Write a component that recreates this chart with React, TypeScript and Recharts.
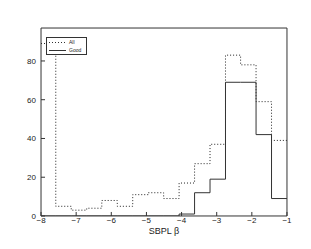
import { LineChart, Line, XAxis, YAxis, Legend } from "recharts";

// bin edges (SBPL beta) and counts per bin
const binEdges = [-8, -7.58, -7.14, -6.7, -6.27, -5.83, -5.39, -4.95, -4.51, -4.07, -3.63, -3.19, -2.75, -2.32, -1.88, -1.44, -1];
const allCounts = [89, 5, 3, 4, 8, 5, 11, 12, 9, 17, 27, 37, 83, 78, 59, 39];
const goodCounts = [0, 0, 0, 0, 0, 0, 0, 0, 0, 1, 12, 19, 69, 69, 42, 9];

const xMajor = [-8, -7, -6, -5, -4, -3, -2, -1];
const xMinor = Array.from({ length: 71 }, (_, i) => Math.round((-8 + i * 0.1) * 10) / 10);
const yMajor = [0, 20, 40, 60, 80];
const yMinor = [0, 5, 10, 15, 20, 25, 30, 35, 40, 45, 50, 55, 60, 65, 70, 75, 80, 85, 90, 95];

// stepAfter: each edge carries the count of the bin that starts there, last edge repeats
const data = binEdges.map((x, i) => ({
  x,
  all: allCounts[Math.min(i, allCounts.length - 1)],
  good: goodCounts[Math.min(i, goodCounts.length - 1)],
}));

const frame = "#333";
const font = "Helvetica, Arial, 'Liberation Sans', sans-serif";
const minus = (v: number) => String(v).replace("-", "\u2212");
const thin = 0.01; // axes need a non-zero size to draw, but should not push each other

const LegendBox = (props: any) => {
  const items = props.payload || [];
  return (
    <div style={{ border: "1px solid #333", background: "#fff", width: 39, height: 16, boxSizing: "content-box", padding: 0 }}>
      {items.map((it: any, i: number) => (
        <div key={i} style={{ display: "flex", alignItems: "center", height: 8, fontFamily: font, fontSize: 5, color: "#222" }}>
          <svg width={22} height={8} style={{ display: "block" }}>
            <line x1={2} x2={19} y1={4.5} y2={4.5} stroke="#333" strokeWidth={1}
              strokeDasharray={it.payload?.strokeDasharray} />
          </svg>
          <span>{it.value}</span>
        </div>
      ))}
    </div>
  );
};

export default function App() {
  return (
    <LineChart width={303} height={241} data={data} margin={{ top: 20, right: 24, bottom: 33, left: 33 }}>
      <XAxis xAxisId="x" dataKey="x" type="number" domain={[-8, -1]} ticks={xMajor} allowDataOverflow
        height={thin} tickSize={-4} tickMargin={5} tickFormatter={minus} stroke={frame}
        tick={{ fontSize: 8, fill: "#222", fontFamily: font }}
        label={{ value: "SBPL \u03b2", position: "bottom", offset: 12, fontSize: 9, fill: "#222", fontFamily: font }} />
      <XAxis xAxisId="xm" type="number" domain={[-8, -1]} ticks={xMinor} height={thin} tickSize={-2}
        tick={false} axisLine={false} stroke={frame} />
      <XAxis xAxisId="xt" orientation="top" type="number" domain={[-8, -1]} ticks={xMajor} height={thin}
        tickSize={-4} tick={false} stroke={frame} />
      <XAxis xAxisId="xtm" orientation="top" type="number" domain={[-8, -1]} ticks={xMinor} height={thin}
        tickSize={-2} tick={false} axisLine={false} stroke={frame} />
      <YAxis yAxisId="y" type="number" domain={[0, 97]} ticks={yMajor} allowDataOverflow width={thin}
        tickSize={-4} tickMargin={9} stroke={frame} tick={{ fontSize: 8, fill: "#222", fontFamily: font }} />
      <YAxis yAxisId="ym" type="number" domain={[0, 97]} ticks={yMinor} width={thin} tickSize={-2}
        tick={false} axisLine={false} stroke={frame} />
      <YAxis yAxisId="yr" orientation="right" type="number" domain={[0, 97]} ticks={yMajor} width={thin}
        tickSize={-4} tick={false} stroke={frame} />
      <YAxis yAxisId="yrm" orientation="right" type="number" domain={[0, 97]} ticks={yMinor} width={thin}
        tickSize={-2} tick={false} axisLine={false} stroke={frame} />
      <Line xAxisId="x" yAxisId="y" type="stepAfter" dataKey="all" name="All" stroke="#222" strokeWidth={1}
        strokeDasharray="1 2" dot={false} isAnimationActive={false} />
      <Line xAxisId="x" yAxisId="y" type="stepAfter" dataKey="good" name="Good" stroke="#333" strokeWidth={1}
        dot={false} isAnimationActive={false} />
      <Legend layout="vertical" align="center" verticalAlign="middle" content={LegendBox}
        wrapperStyle={{ left: 38, top: 29, width: 41 }} />
    </LineChart>
  );
}
